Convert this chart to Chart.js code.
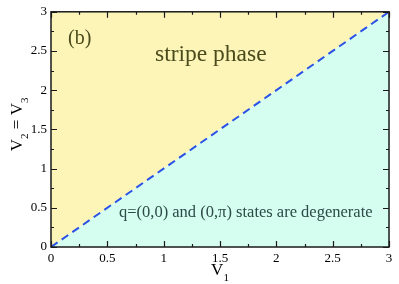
<!DOCTYPE html>
<html><head><meta charset="utf-8">
<script src="https://cdn.jsdelivr.net/npm/chart.js@4.4.0/dist/chart.umd.min.js"></script>
<style>html,body{margin:0;padding:0;background:#fff;}</style>
</head><body>
<canvas id="c" width="399" height="284"></canvas>
<script>
// phase boundary V2=V3 vs V1
const boundaryX = [0, 3];
const boundaryY = [0, 3];
const xTicks = [0, 0.5, 1, 1.5, 2, 2.5, 3];
const yTicks = [0, 0.5, 1, 1.5, 2, 2.5, 3];
const xTickLabels = ['0', '0.5', '1', '1.5', '2', '2.5', '3'];
const yTickLabels = ['0', '0.5', '1', '1.5', '2', '2.5', '3'];
const xMinorStep = 0.25;
const yMinorStep = 0.25;
const panelLabel = '(b)';
const upperLabel = 'stripe phase';
const lowerLabel = 'q=(0,0) and (0,\u03c0) states are degenerate';

const SERIF = '"Liberation Serif", "Times New Roman", serif';
const pts = boundaryX.map((x, i) => ({x: x, y: boundaryY[i]}));

function drawParts(ctx, parts, x, y, mainSize, subSize, subDrop) {
  let w = 0;
  parts.forEach(p => {
    ctx.font = (p.sub ? subSize : mainSize) + 'px ' + SERIF;
    w += ctx.measureText(p.t).width;
  });
  let cx = x - w / 2;
  parts.forEach(p => {
    ctx.font = (p.sub ? subSize : mainSize) + 'px ' + SERIF;
    ctx.fillText(p.t, cx, y + (p.sub ? subDrop : 0));
    cx += ctx.measureText(p.t).width;
  });
}

const decor = {
  id: 'decor',
  afterDatasetsDraw(chart) {
    const {ctx, chartArea: a, scales} = chart;
    const xs = scales.x, ys = scales.y;
    ctx.save();
    ctx.strokeStyle = '#1a1a1a';
    ctx.lineWidth = 1.5;
    ctx.strokeRect(a.left, a.top, a.right - a.left, a.bottom - a.top);
    ctx.lineWidth = 1.2;
    ctx.beginPath();
    for (let v = xs.min; v <= xs.max + 1e-9; v += xMinorStep) {
      const px = Math.round(xs.getPixelForValue(v)) + 0.5;
      const major = xTicks.some(t => Math.abs(t - v) < 1e-6);
      const L = major ? 6 : 3;
      ctx.moveTo(px, a.bottom); ctx.lineTo(px, a.bottom - L);
      ctx.moveTo(px, a.top); ctx.lineTo(px, a.top + L);
    }
    for (let v = ys.min; v <= ys.max + 1e-9; v += yMinorStep) {
      const py = Math.round(ys.getPixelForValue(v)) + 0.5;
      const major = yTicks.some(t => Math.abs(t - v) < 1e-6);
      const L = major ? 6 : 3;
      ctx.moveTo(a.left, py); ctx.lineTo(a.left + L, py);
      ctx.moveTo(a.right, py); ctx.lineTo(a.right - L, py);
    }
    ctx.stroke();

    ctx.textBaseline = 'alphabetic';
    ctx.textAlign = 'left';
    ctx.fillStyle = '#4a4a1c';
    ctx.font = '20px ' + SERIF;
    ctx.fillText(panelLabel, 68, 44);
    ctx.font = '23.5px ' + SERIF;
    ctx.fillText(upperLabel, 155, 61);
    ctx.fillStyle = '#2c4a46';
    ctx.font = '16.5px ' + SERIF;
    ctx.fillText(lowerLabel, 119, 217);

    // axis titles
    ctx.fillStyle = '#000';
    drawParts(ctx, [{t:'V'}, {t:'1', sub:true}], (a.left + a.right) / 2, 275, 17, 11, 6);
    ctx.save();
    ctx.translate(22, (a.top + a.bottom) / 2 - 5);
    ctx.rotate(-Math.PI / 2);
    drawParts(ctx, [{t:'V'}, {t:'2', sub:true}, {t:' = V'}, {t:'3', sub:true}], 0, 0, 17, 11, 6);
    ctx.restore();
    ctx.restore();
  }
};

new Chart(document.getElementById('c'), {
  type: 'line',
  data: {
    datasets: [
      {label: 'boundary', data: pts, borderColor: '#2b52e6', borderWidth: 2,
       borderDash: [8, 5], pointRadius: 0, fill: false, order: 0, tension: 0},
      {label: 'upper', data: pts, borderWidth: 0, pointRadius: 0,
       backgroundColor: '#fdf5b8', fill: 'end', order: 2},
      {label: 'lower', data: pts, borderWidth: 0, pointRadius: 0,
       backgroundColor: '#d5fdf0', fill: 'start', order: 1}
    ]
  },
  options: {
    responsive: false,
    devicePixelRatio: 1,
    animation: false,
    layout: {padding: {top: 10, right: 10, left: 0, bottom: 0}},
    plugins: {legend: {display: false}, tooltip: {enabled: false}},
    scales: {
      x: {
        type: 'linear', min: 0, max: 3,
        afterBuildTicks: s => { s.ticks = xTicks.map(v => ({value: v})); },
        ticks: {font: {family: SERIF, size: 13}, color: '#000', padding: 4, maxRotation: 0, autoSkip: false,
                callback: (v, i) => xTickLabels[i]},
        grid: {display: false, drawTicks: false},
        border: {display: false},
        afterFit: s => { s.height = 37; }
      },
      y: {
        type: 'linear', min: 0, max: 3,
        afterBuildTicks: s => { s.ticks = yTicks.map(v => ({value: v})); },
        ticks: {font: {family: SERIF, size: 13}, color: '#000', padding: 4, autoSkip: false,
                callback: (v, i) => yTickLabels[i]},
        grid: {display: false, drawTicks: false},
        border: {display: false},
        afterFit: s => { s.width = 51; }
      }
    }
  },
  plugins: [decor]
});
</script>
</body></html>
